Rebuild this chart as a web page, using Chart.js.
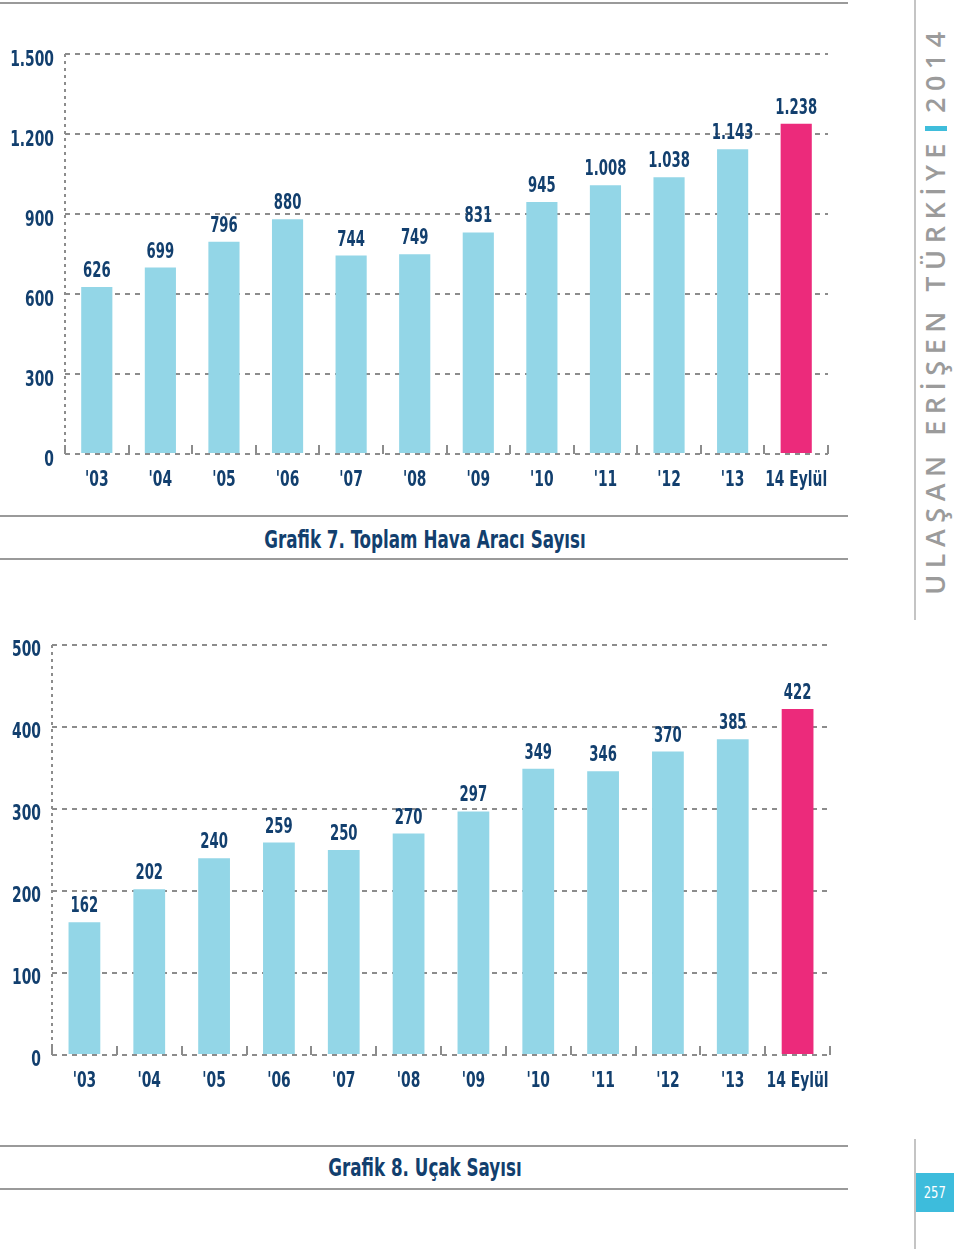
<!DOCTYPE html>
<html><head><meta charset="utf-8">
<script src="https://cdn.jsdelivr.net/npm/chart.js@4.4.1/dist/chart.umd.min.js"></script>
<style>
body{margin:0;width:960px;height:1251px;position:relative;background:#fff;overflow:hidden;font-family:'DejaVu Sans Condensed',sans-serif;}
.hl{position:absolute;left:0;width:848px;height:2px;background:#9a9a9a;}
.vl{position:absolute;left:914px;width:2px;background:#c4c4c4;}
.title{position:absolute;left:0;width:850px;text-align:center;color:#123f6e;font-weight:bold;font-size:24px;line-height:30px;transform:scaleX(0.775);transform-origin:50% 50%;}
#w1{position:absolute;left:0;top:0;width:850px;height:510px;}
#w2{position:absolute;left:0;top:590px;width:850px;height:520px;}
.side{position:absolute;left:635px;top:295px;width:600px;height:30px;line-height:30px;transform:rotate(-90deg);transform-origin:50% 50%;
  color:#9b9b9b;font-family:'Open Sans',sans-serif;font-weight:600;font-size:27px;letter-spacing:6.5px;white-space:nowrap;text-align:center;}
.side .bar{display:inline-block;width:5px;height:22px;background:#3fbddb;vertical-align:-2px;margin:0 13px 0 6px;}
.page{position:absolute;left:916px;top:1173px;width:38px;height:39px;background:#3dbcdc;color:#fff;font-size:16px;line-height:39px;text-align:center;}
.page span{display:inline-block;transform:scaleX(0.8);}
</style></head>
<body>
<div class="hl" style="top:2px"></div>
<div class="vl" style="top:0;height:620px"></div>
<div id="w1"><canvas id="c1" width="850" height="510"></canvas></div>
<div class="hl" style="top:515px"></div>
<div class="title" style="top:525px">Grafik 7. Toplam Hava Aracı Sayısı</div>
<div class="hl" style="top:558px"></div>
<div class="side">ULAŞAN ERİŞEN TÜRKİYE<span class="bar"></span>2014</div>
<div id="w2"><canvas id="c2" width="850" height="520"></canvas></div>
<div class="hl" style="top:1145px"></div>
<div class="title" style="top:1153px">Grafik 8. Uçak Sayısı</div>
<div class="hl" style="top:1188px"></div>
<div class="vl" style="top:1139px;height:110px"></div>
<div class="page"><span>257</span></div>
<script>
const categories = ["'03","'04","'05","'06","'07","'08","'09","'10","'11","'12","'13","14 Eylül"];
const aircraftCounts = [626,699,796,880,744,749,831,945,1008,1038,1143,1238];
const planeCounts = [162,202,240,259,250,270,297,349,346,370,385,422];
const aircraftAxis = {min:0, max:1500, step:300};
const planeAxis = {min:0, max:500, step:100};

const NAVY = '#123f6e', BLUE = '#93d6e7', PINK = '#ec2a7b', GRID = '#8c8c8c';
const FONT = "'DejaVu Sans Condensed',sans-serif";
const SQUEEZE = 0.7;
const fmt = v => String(v).replace(/\B(?=(\d{3})+(?!\d))/g, '.');

// condense all canvas text horizontally (the reference uses a condensed face)
function condense(canvas) {
  const ctx = canvas.getContext('2d');
  const orig = ctx.fillText.bind(ctx);
  ctx.fillText = function (t, x, y, mw) {
    const w = this.measureText(t).width * SQUEEZE;
    return orig(t, x, y, mw !== undefined ? Math.min(mw, w) : w);
  };
  return canvas;
}

const labelPlugin = {
  id: 'valueLabels',
  afterDatasetsDraw(chart) {
    const ctx = chart.ctx;
    const meta = chart.getDatasetMeta(0);
    const data = chart.data.datasets[0].data;
    ctx.save();
    ctx.font = 'bold 21px ' + FONT;
    ctx.fillStyle = NAVY;
    ctx.textAlign = 'center';
    ctx.textBaseline = 'alphabetic';
    meta.data.forEach((el, i) => ctx.fillText(fmt(data[i]), el.x, el.y - 10));
    ctx.restore();
  }
};

function makeChart(id, values, axis, yWidth, padTop, padRight, xHeight, labelOffset) {
  const colors = values.map((v, i) => i === values.length - 1 ? PINK : BLUE);
  return new Chart(condense(document.getElementById(id)), {
    type: 'bar',
    data: { labels: categories, datasets: [{ data: values, backgroundColor: colors, borderWidth: 0,
      barPercentage: 0.49, categoryPercentage: 1 }] },
    plugins: [labelPlugin],
    options: {
      responsive: false, animation: false,
      layout: { padding: { top: padTop, right: padRight, left: 0, bottom: 0 } },
      plugins: { legend: { display: false }, tooltip: { enabled: false } },
      scales: {
        x: {
          grid: { display: true, offset: true, drawOnChartArea: true,
            color: c => c.index === 0 ? GRID : 'rgba(0,0,0,0)', lineWidth: 2,
            tickColor: GRID, tickLength: -9, tickWidth: 2 },
          border: { display: false, dash: [3, 4] },
          ticks: { color: NAVY, font: { family: FONT, size: 22, weight: 'bold' }, padding: 22,
            maxRotation: 0, minRotation: 0, autoSkip: false },
          afterFit: s => { s.height = xHeight; s.paddingLeft = 0; s.paddingRight = 0; }
        },
        y: {
          min: axis.min, max: axis.max,
          grid: { color: GRID, lineWidth: 2, drawTicks: false },
          border: { display: false, dash: [5, 5] },
          ticks: { stepSize: axis.step, color: NAVY, padding: 11, labelOffset: labelOffset,
            font: { family: FONT, size: 22, weight: 'bold' }, callback: v => fmt(v) },
          afterFit: s => { s.width = yWidth; s.paddingTop = 0; s.paddingBottom = 0; }
        }
      }
    }
  });
}
makeChart('c1', aircraftCounts, aircraftAxis, 65, 54, 22, 56, 6);
makeChart('c2', planeCounts, planeAxis, 52, 55, 20, 55, 5);
</script>
</body></html>
